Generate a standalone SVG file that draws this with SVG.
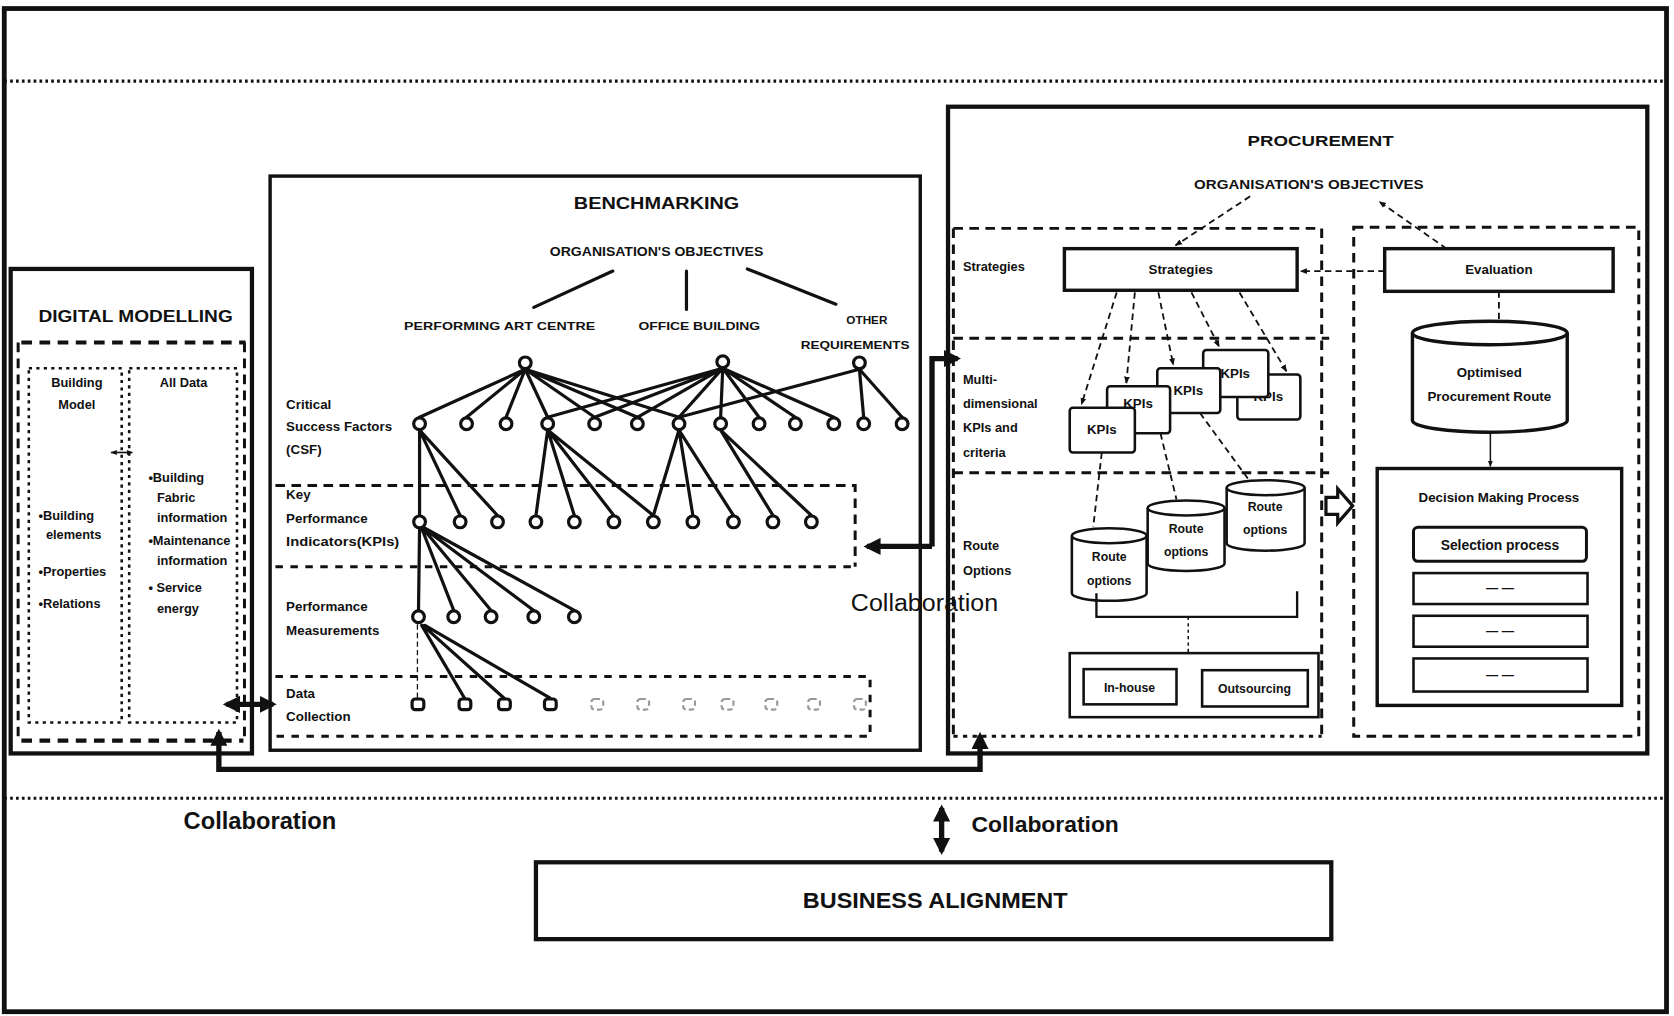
<svg xmlns="http://www.w3.org/2000/svg" width="1674" height="1016" viewBox="0 0 1674 1016">
<style>
.t{font-family:"Liberation Sans",Arial,sans-serif;font-weight:bold;fill:#111}
.s10{font-size:11.5px}
.s12{font-size:12px}
.s11{font-size:12.5px}
.m{text-anchor:middle}
.frame{fill:none;stroke:#111;stroke-width:4.5}
.box{fill:#fff;stroke:#111;stroke-width:3.2}
.thin{fill:#fff;stroke:#111;stroke-width:2.4}
.dash{fill:none;stroke:#111;stroke-width:2.8;stroke-dasharray:9 6}
.hdash{fill:none;stroke:#111;stroke-width:3.8;stroke-dasharray:10 7}
.dot{fill:none;stroke:#111;stroke-width:2.4;stroke-dasharray:3 4}
.sdash{fill:none;stroke:#111;stroke-width:1.7;stroke-dasharray:6 4}
.edge{fill:none;stroke:#111;stroke-width:3;stroke-linecap:round}
.node{fill:#fff;stroke:#111;stroke-width:3}
.fade{fill:#fff;stroke:#999;stroke-width:2;stroke-dasharray:5 3}
.big{fill:none;stroke:#111;stroke-width:5}
</style>
<defs>
<marker id="ah" viewBox="0 0 10 10" refX="8" refY="5" markerWidth="3.2" markerHeight="3.2" orient="auto-start-reverse"><path d="M0,0 L10,5 L0,10 z" fill="#111"/></marker>
<marker id="as" viewBox="0 0 10 10" refX="9" refY="5" markerWidth="4" markerHeight="4" orient="auto-start-reverse"><path d="M0,1 L10,5 L0,9 z" fill="#111"/></marker>
</defs>
<g transform="scale(1.0676,1.0672)">
<rect x="0" y="0" width="1568" height="952" fill="#fff"/>
<g id="frame">
<rect class="frame" x="4" y="8" width="1557" height="940"/>
<path d="M4,76 H1561" fill="none" stroke="#111" stroke-width="3.2" stroke-dasharray="2.5 3"/>
<path d="M4,748 H1561" fill="none" stroke="#111" stroke-width="2.8" stroke-dasharray="2.5 3"/>
</g>

<g id="digital-modelling">
<rect class="box" x="10" y="252" width="226" height="454" style="stroke-width:4"/>
<text class="t m" x="127" y="302" font-size="15" textLength="182" lengthAdjust="spacingAndGlyphs">DIGITAL MODELLING</text>
<path class="hdash" d="M20,321 H230"/>
<path class="dash" d="M17,321 V694 M229,321 V694"/>
<path class="hdash" d="M20,694 H228"/>
<rect class="dot" x="27" y="345" width="87" height="332"/>
<rect class="dot" x="121" y="345" width="101" height="332"/>
<path d="M104,424 H124" stroke="#111" stroke-width="1.5" marker-start="url(#as)" marker-end="url(#as)"/>
<text class="t s12 m" x="72" y="363">Building</text>
<text class="t s12 m" x="72" y="383">Model</text>
<text class="t s12 m" x="172" y="363">All Data</text>
<text class="t s12" x="36" y="487">•Building</text>
<text class="t s12" x="43" y="505">elements</text>
<text class="t s12" x="36" y="540">•Properties</text>
<text class="t s12" x="36" y="570">•Relations</text>
<text class="t s12" x="139" y="452">•Building</text>
<text class="t s12" x="147" y="470">Fabric</text>
<text class="t s12" x="147" y="489">information</text>
<text class="t s12" x="139" y="511">•Maintenance</text>
<text class="t s12" x="147" y="529">information</text>
<text class="t s12" x="139" y="555">• Service</text>
<text class="t s12" x="147" y="574">energy</text>
</g>

<g id="benchmarking">
<rect class="box" x="253" y="165" width="609" height="538"/>
<text class="t m" x="615" y="196" font-size="15" textLength="155" lengthAdjust="spacingAndGlyphs">BENCHMARKING</text>
<text class="t m" x="615" y="240" font-size="11.5" textLength="200" lengthAdjust="spacingAndGlyphs">ORGANISATION'S OBJECTIVES</text>
<path class="edge" d="M574,254 L500,288 M643,254 V290 M700,252 L783,285"/>
<text class="t m" x="468" y="309" font-size="11" textLength="179" lengthAdjust="spacingAndGlyphs">PERFORMING ART CENTRE</text>
<text class="t m" x="655" y="309" font-size="11" textLength="114" lengthAdjust="spacingAndGlyphs">OFFICE BUILDING</text>
<text class="t m" x="812" y="304" font-size="11">OTHER</text>
<text class="t m" x="801" y="327" font-size="11" textLength="102" lengthAdjust="spacingAndGlyphs">REQUIREMENTS</text>
<text class="t s11" x="268" y="383">Critical</text>
<text class="t s11" x="268" y="404">Success Factors</text>
<text class="t s11" x="268" y="425">(CSF)</text>
<text class="t s11" x="268" y="468">Key</text>
<text class="t s11" x="268" y="490">Performance</text>
<text class="t s11" x="268" y="512" textLength="106" lengthAdjust="spacingAndGlyphs">Indicators(KPIs)</text>
<text class="t s11" x="268" y="573">Performance</text>
<text class="t s11" x="268" y="595">Measurements</text>
<text class="t s11" x="268" y="654">Data</text>
<text class="t s11" x="268" y="676">Collection</text>
<path class="dash" d="M258,455 H801 V531"/>
<path class="dash" d="M258,531 H801" style="stroke-dasharray:7 7"/>
<path class="dash" d="M258,634 H815 V690 H258" style="stroke-dasharray:7 7"/>
<g id="bm-edges">
<path class="edge" d="M492,346 L393,391 M492,346 L437,391 M492,346 L474,391 M492,346 L513,391 M492,346 L557,391 M492,346 L597,391 M492,346 L636,391"/>
<path class="edge" d="M677,345 L513,391 M677,345 L557,391 M677,345 L597,391 M677,345 L636,391 M677,345 L675,391 M677,345 L711,391 M677,345 L745,391 M677,345 L781,391"/>
<path class="edge" d="M805,346 L636,391 M805,346 L809,391 M805,346 L845,391"/>
<path class="edge" d="M393,403 L393,483 M393,403 L431,483 M393,403 L466,483"/>
<path class="edge" d="M513,403 L502,483 M513,403 L538,483 M513,403 L575,483 M513,403 L612,483"/>
<path class="edge" d="M636,403 L612,483 M636,403 L649,483 M636,403 L687,483"/>
<path class="edge" d="M675,403 L724,483 M675,403 L760,483"/>
<path class="edge" d="M393,495 L392,572 M395,495 L425,572 M396,495 L460,572 M397,495 L500,572 M398,495 L538,572"/>
<path d="M391,585 V654" stroke="#111" stroke-width="1.2" stroke-dasharray="5 3"/>
<path class="edge" d="M395,586 L435,654 M396,586 L472,654 M398,586 L515,654"/>
</g>
<g id="bm-nodes">
<circle class="node" cx="492" cy="340" r="5.5"/>
<circle class="node" cx="677" cy="339" r="5.5"/>
<circle class="node" cx="805" cy="340" r="5.5"/>
<circle class="node" cx="393" cy="397" r="5.5"/><circle class="node" cx="437" cy="397" r="5.5"/><circle class="node" cx="474" cy="397" r="5.5"/><circle class="node" cx="513" cy="397" r="5.5"/><circle class="node" cx="557" cy="397" r="5.5"/><circle class="node" cx="597" cy="397" r="5.5"/><circle class="node" cx="636" cy="397" r="5.5"/><circle class="node" cx="675" cy="397" r="5.5"/><circle class="node" cx="711" cy="397" r="5.5"/><circle class="node" cx="745" cy="397" r="5.5"/><circle class="node" cx="781" cy="397" r="5.5"/><circle class="node" cx="809" cy="397" r="5.5"/><circle class="node" cx="845" cy="397" r="5.5"/>
<circle class="node" cx="393" cy="489" r="5.5"/><circle class="node" cx="431" cy="489" r="5.5"/><circle class="node" cx="466" cy="489" r="5.5"/><circle class="node" cx="502" cy="489" r="5.5"/><circle class="node" cx="538" cy="489" r="5.5"/><circle class="node" cx="575" cy="489" r="5.5"/><circle class="node" cx="612" cy="489" r="5.5"/><circle class="node" cx="649" cy="489" r="5.5"/><circle class="node" cx="687" cy="489" r="5.5"/><circle class="node" cx="724" cy="489" r="5.5"/><circle class="node" cx="760" cy="489" r="5.5"/>
<circle class="node" cx="392" cy="578" r="5.5"/><circle class="node" cx="425" cy="578" r="5.5"/><circle class="node" cx="460" cy="578" r="5.5"/><circle class="node" cx="500" cy="578" r="5.5"/><circle class="node" cx="538" cy="578" r="5.5"/>
<rect class="node" x="386" y="655" width="11" height="10" rx="3"/><rect class="node" x="430" y="655" width="11" height="10" rx="3"/><rect class="node" x="467" y="655" width="11" height="10" rx="3"/><rect class="node" x="510" y="655" width="11" height="10" rx="3"/>
<rect class="fade" x="554" y="655" width="11" height="10" rx="3"/><rect class="fade" x="597" y="655" width="11" height="10" rx="3"/><rect class="fade" x="640" y="655" width="11" height="10" rx="3"/><rect class="fade" x="676" y="655" width="11" height="10" rx="3"/><rect class="fade" x="717" y="655" width="11" height="10" rx="3"/><rect class="fade" x="757" y="655" width="11" height="10" rx="3"/><rect class="fade" x="800" y="655" width="11" height="10" rx="3"/>
</g>
</g>

<g id="procurement">
<rect class="box" x="888" y="100" width="655" height="606" style="stroke-width:4"/>
<text class="t m" x="1237" y="137" font-size="14.5" textLength="137" lengthAdjust="spacingAndGlyphs">PROCUREMENT</text>
<text class="t m" x="1226" y="177" font-size="11.5" textLength="215" lengthAdjust="spacingAndGlyphs">ORGANISATION'S OBJECTIVES</text>
<path class="dash" d="M893,214 H1238 V690 M893,214 V690"/>
<path class="dash" d="M893,690 H1238" style="stroke-dasharray:4 5"/>
<rect class="dash" x="1268" y="213" width="267" height="477"/>
<path class="dash" d="M893,317 H1245 M893,443 H1245"/>
<text class="t s12" x="902" y="254">Strategies</text>
<text class="t s12" x="902" y="360">Multi-</text>
<text class="t s12" x="902" y="382">dimensional</text>
<text class="t s12" x="902" y="405">KPIs and</text>
<text class="t s12" x="902" y="428">criteria</text>
<text class="t s12" x="902" y="515">Route</text>
<text class="t s12" x="902" y="539">Options</text>
<g id="strategies"><rect class="box" x="997" y="233" width="218" height="39"/><text class="t s11 m" x="1106" y="257">Strategies</text></g>
<g id="evaluation"><rect class="box" x="1297" y="233" width="214" height="40"/><text class="t s11 m" x="1404" y="257">Evaluation</text></g>
<g id="kpis">
<rect class="thin" x="1159" y="351" width="59" height="42" rx="3"/><text class="t s11 m" x="1188" y="376">KPIs</text>
<rect class="thin" x="1127" y="328" width="61" height="44" rx="3"/><text class="t s11 m" x="1157" y="354">KPIs</text>
<rect class="thin" x="1084" y="345" width="59" height="42" rx="3"/><text class="t s11 m" x="1113" y="370">KPIs</text>
<rect class="thin" x="1037" y="362" width="59" height="44" rx="3"/><text class="t s11 m" x="1066" y="382">KPIs</text>
<rect class="thin" x="1002" y="382" width="61" height="42" rx="3"/><text class="t s11 m" x="1032" y="407">KPIs</text>
</g>
<g id="route-options">
<path class="thin" d="M1149,457 V509 A36.5,7 0 0 0 1222,509 V457"/><ellipse class="thin" cx="1185.5" cy="457" rx="36.5" ry="7"/>
<text class="t s10 m" x="1185" y="479">Route</text><text class="t s10 m" x="1185" y="500">options</text>
<path class="thin" d="M1075,476 V528 A36,7 0 0 0 1147,528 V476"/><ellipse class="thin" cx="1111" cy="476" rx="36" ry="7"/>
<text class="t s10 m" x="1111" y="499">Route</text><text class="t s10 m" x="1111" y="521">options</text>
<path class="thin" d="M1004,502 V556 A35,7 0 0 0 1074,556 V502"/><ellipse class="thin" cx="1039" cy="502" rx="35" ry="7"/>
<text class="t s10 m" x="1039" y="526">Route</text><text class="t s10 m" x="1039" y="548">options</text>
</g>
<g id="sourcing">
<rect class="thin" x="1002" y="612" width="233" height="60" style="fill:none"/>
<rect class="thin" x="1015" y="627" width="87" height="33"/><text class="t s10 m" x="1058" y="648">In-house</text>
<rect class="thin" x="1126" y="628" width="99" height="34"/><text class="t s10 m" x="1175" y="649">Outsourcing</text>
</g>
<g id="optimised-route">
<path class="box" d="M1323,312 V394 A72.5,11 0 0 0 1468,394 V312"/><ellipse class="box" cx="1395.5" cy="312" rx="72.5" ry="11"/>
<text class="t s11 m" x="1395" y="353">Optimised</text>
<text class="t s11 m" x="1395" y="376">Procurement Route</text>
</g>
<g id="decision-making">
<rect class="box" x="1290" y="439" width="229" height="222"/>
<text class="t s11 m" x="1404" y="470">Decision Making Process</text>
<rect class="thin" x="1324" y="494" width="162" height="32" rx="4" style="stroke-width:2.8"/><text class="t m" x="1405" y="515" font-size="13">Selection process</text>
<rect class="thin" x="1324" y="537" width="163" height="29"/><text class="t s10 m" x="1405" y="555">— —</text>
<rect class="thin" x="1324" y="577" width="163" height="29"/><text class="t s10 m" x="1405" y="595">— —</text>
<rect class="thin" x="1324" y="617" width="163" height="31"/><text class="t s10 m" x="1405" y="636">— —</text>
</g>
</g>

<g id="connectors">
<path class="sdash" d="M1171,184 L1101,230" marker-end="url(#as)"/>
<path class="sdash" d="M1355,233 L1292,189" marker-end="url(#as)"/>
<path class="sdash" d="M1297,254 H1218" marker-end="url(#as)"/>
<path class="sdash" d="M1404,273 V301"/>
<path d="M1396,405 V437" stroke="#111" stroke-width="1.4" marker-end="url(#as)"/>
<path class="sdash" d="M1046,274 L1013,379" marker-end="url(#as)"/>
<path class="sdash" d="M1063,274 L1055,359" marker-end="url(#as)"/>
<path class="sdash" d="M1085,274 L1099,342" marker-end="url(#as)"/>
<path class="sdash" d="M1116,274 L1142,325" marker-end="url(#as)"/>
<path class="sdash" d="M1161,274 L1205,348" marker-end="url(#as)"/>
<path class="sdash" d="M1032,424 L1024,494"/>
<path class="sdash" d="M1087,406 L1102,468"/>
<path class="sdash" d="M1124,387 L1170,450"/>
<path d="M1027,556 V578 H1215 V554" fill="none" stroke="#111" stroke-width="2.2"/>
<path d="M1113,578 V612" stroke="#111" stroke-width="1.4" stroke-dasharray="3 3"/>
<path d="M1242,466 H1253 V458 L1267,474 L1253,490 V482 H1242 Z" fill="#fff" stroke="#111" stroke-width="3"/>
<path class="big" d="M873,512 V336 H897" marker-end="url(#ah)"/>
<path class="big" d="M873,512 H812" marker-end="url(#ah)"/>
<path class="big" d="M212,660 H256" marker-start="url(#ah)" marker-end="url(#ah)"/>
<path class="big" d="M205,686 V721 H918 V689" marker-start="url(#ah)" marker-end="url(#ah)"/>
<path class="big" d="M882,757 V798" marker-start="url(#ah)" marker-end="url(#ah)"/>
<text x="866" y="573" font-family="Liberation Sans, Arial, sans-serif" font-size="23" text-anchor="middle" fill="#111" textLength="138" lengthAdjust="spacingAndGlyphs">Collaboration</text>
<text class="t" x="172" y="777" font-size="23" textLength="143" lengthAdjust="spacingAndGlyphs">Collaboration</text>
<text class="t" x="910" y="780" font-size="21" textLength="138" lengthAdjust="spacingAndGlyphs">Collaboration</text>
</g>

<g id="business-alignment">
<rect x="502" y="808" width="745" height="72" fill="#fff" stroke="#111" stroke-width="4"/>
<text class="t m" x="876" y="851" font-size="20" textLength="248" lengthAdjust="spacingAndGlyphs">BUSINESS ALIGNMENT</text>
</g>
</g>
</svg>
